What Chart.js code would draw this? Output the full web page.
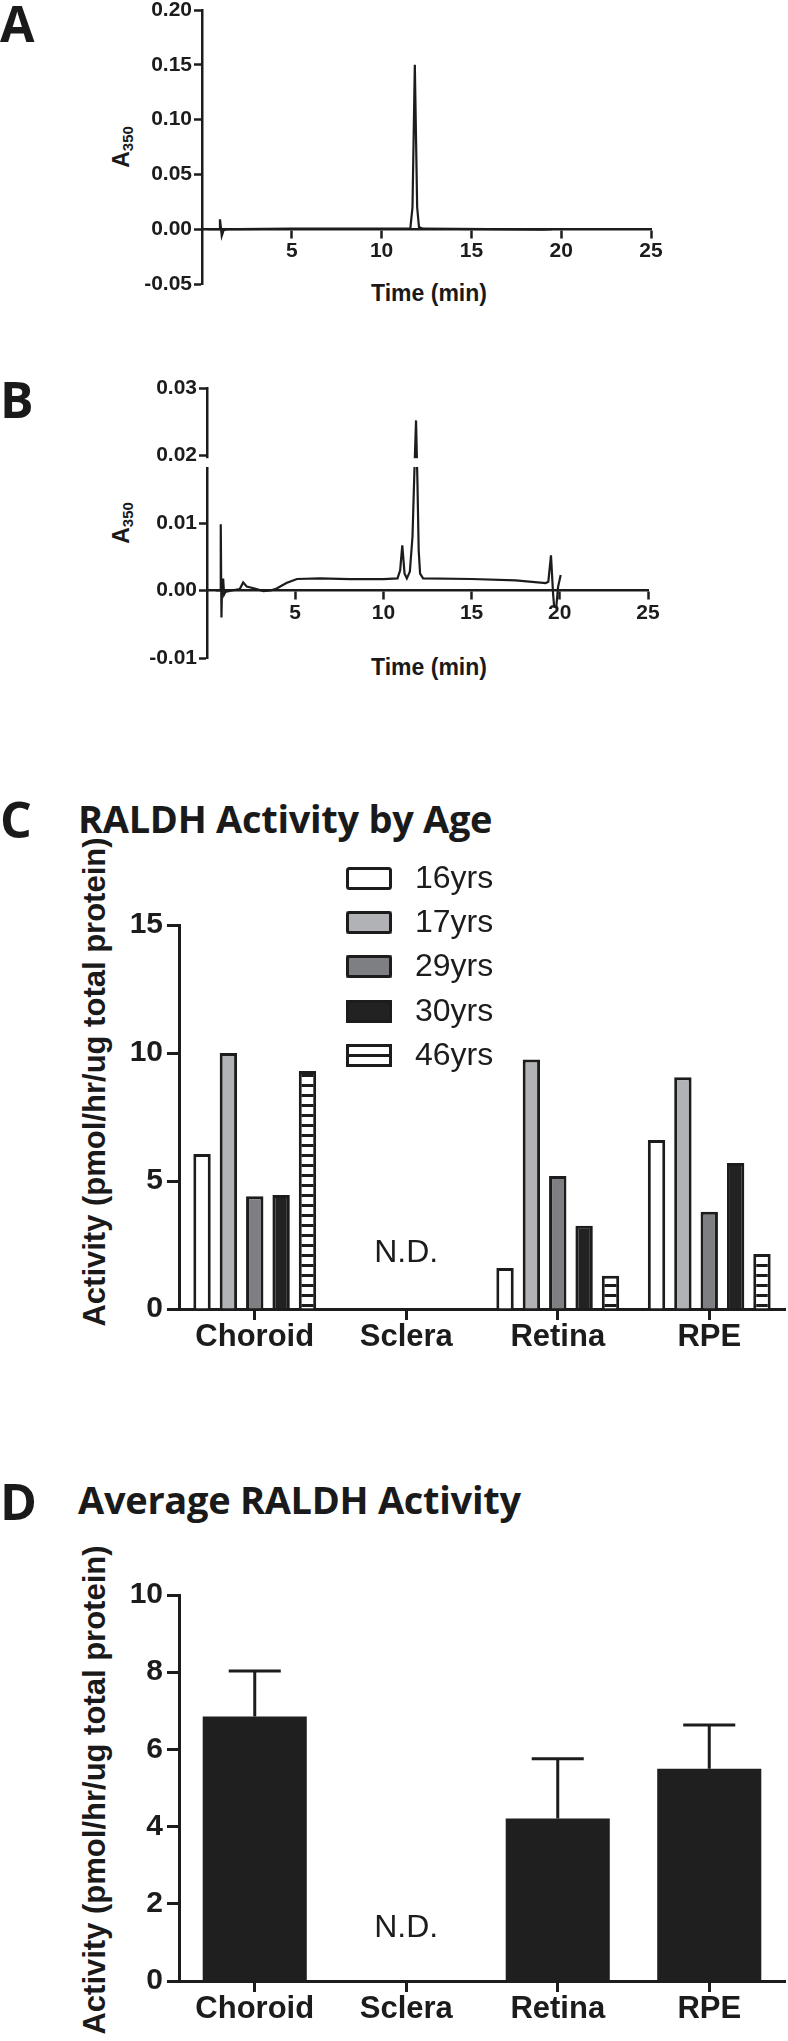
<!DOCTYPE html>
<html>
<head>
<meta charset="utf-8">
<script src="https://cdn.jsdelivr.net/npm/chart.js@4.4.1/dist/chart.umd.min.js"></script>
<style>
  html, body { margin: 0; padding: 0; background: #fff; }
  body { position: relative; width: 788px; height: 2041px; overflow: hidden;
         font-family: 'Liberation Sans', Arial, sans-serif; color: #1a1a1a; }
  canvas { position: absolute; left: 0; }
  .panel { position: absolute; left: 0; font-family: 'Open Sans', sans-serif; font-weight: 700;
           font-size: 50px; line-height: 1; }
  .title { position: absolute; left: 78px; font-family: 'Open Sans', sans-serif; font-weight: 700;
           font-size: 38px; line-height: 1; white-space: nowrap; letter-spacing: -0.3px; }
  .rot { position: absolute; white-space: nowrap; font-weight: bold; line-height: 1;
         transform: translate(-50%, -50%) rotate(-90deg); }
  .rot sub { font-size: 15px; vertical-align: -4px; }
  .xt { position: absolute; white-space: nowrap; font-weight: bold; font-size: 23px; line-height: 1;
        transform: translate(-50%, -50%); }
</style>
</head>
<body>
<div class="panel" style="top:-2px">A</div>
<div class="panel" style="top:374px">B</div>
<div class="panel" style="top:794px">C</div>
<div class="panel" style="top:1476px">D</div>
<div class="title" style="top:799px">RALDH Activity by Age</div>
<div class="title" style="top:1480px">Average RALDH Activity</div>

<div class="rot" style="left:122px; top:147px; font-size:23px">A<sub>350</sub></div>
<div class="rot" style="left:122px; top:523px; font-size:23px">A<sub>350</sub></div>
<div class="xt" style="left:429px; top:293px">Time (min)</div>
<div class="xt" style="left:429px; top:667px">Time (min)</div>
<div class="rot" style="left:94px; top:1082px; font-size:31px">Activity (pmol/hr/ug total protein)</div>
<div class="rot" style="left:94px; top:1790px; font-size:31px">Activity (pmol/hr/ug total protein)</div>

<canvas id="chartA" width="788" height="330" style="top:-20px"></canvas>
<canvas id="chartB" width="788" height="330" style="top:350px"></canvas>
<canvas id="chartC" width="788" height="516" style="top:844px"></canvas>
<canvas id="chartD" width="788" height="481" style="top:1560px"></canvas>

<script>
// chromatogram A (standard)
const timeA = [0.3, 0.95, 1.0, 1.05, 1.1, 1.2, 1.4, 2.0, 5.0, 9.0, 11.6, 11.72, 11.79, 11.85, 11.91, 11.98, 12.08, 12.3, 16.0, 19.0, 19.5];
const absA  = [0, 0, 0.009, 0.002, -0.006, -0.001, 0, 0, 0.0005, 0.0005, 0.0008, 0.02, 0.09, 0.15, 0.09, 0.02, 0.002, 0.0005, 0, -0.0003, 0];

// chromatogram B (sample)
const timeB = [0.5, 0.75, 0.78, 0.82, 0.86, 0.92, 0.97, 1.05, 1.4, 1.85, 2.05, 2.25, 2.7, 3.2, 3.6, 3.95, 4.5, 5.1, 6.4, 8.1,
               10.0, 10.8, 10.95, 11.07, 11.2, 11.33, 11.5, 11.65, 11.75, 11.85, 11.93, 12.0, 12.08, 12.25, 15.0, 17.5,
               19.2, 19.35, 19.5, 19.62, 19.68, 19.8, 19.9, 20.05];
const absB  = [0, 0, 0.0098, -0.004, 0.0016, 0.0016, -0.0006, -0.0002, 0, 0.0002, 0.0012, 0.0006, 0.0003, -0.0001, 0, 0.0003, 0.0011, 0.0017, 0.0018, 0.0017,
               0.0017, 0.0018, 0.003, 0.0067, 0.0025, 0.0018, 0.0028, 0.008, 0.017, 0.0252, 0.016, 0.006, 0.0025, 0.0018, 0.0017, 0.0015,
               0.0011, 0.0013, 0.0052, -0.0005, -0.0024, -0.0025, 0.0005, 0.0023];

const timeTicks = [5, 10, 15, 20, 25];
const ticksAY = [-0.05, 0, 0.05, 0.10, 0.15, 0.20];
const ticksBY = [-0.01, 0, 0.01, 0.02, 0.03];

// RALDH activity by age
const tissues = ['Choroid', 'Sclera', 'Retina', 'RPE'];
const ages = ['16yrs', '17yrs', '29yrs', '30yrs', '46yrs'];
const act16 = [6.05, null, 1.6, 6.6];
const act17 = [10.0, null, 9.75, 9.05];
const act29 = [4.4, null, 5.2, 3.8];
const act30 = [4.45, null, 3.25, 5.7];
const act46 = [9.3, null, 1.3, 2.15];
const ticksC = [0, 5, 10, 15];

// average activity (mean and SEM)
const avgAct = [6.85, null, 4.21, 5.5];
const avgErr = [1.18, null, 1.55, 1.13];
const ticksD = [0, 2, 4, 6, 8, 10];

const ndLabels = ['', 'N.D.', '', ''];

const INK = '#1c1c1c';
Chart.defaults.font.family = "'Liberation Sans', Arial, sans-serif";
Chart.defaults.color = INK;
Chart.defaults.animation = false;

function zip(xs, ys) { return xs.map((x, i) => ({ x: x, y: ys[i] })); }
function setTicks(arr) { return s => { s.ticks = arr.map(v => ({ value: v })); }; }

// horizontal stripes for the 46yrs bars
function stripes() {
  const c = document.createElement('canvas');
  c.width = 10; c.height = 10;
  const g = c.getContext('2d');
  g.fillStyle = '#fff'; g.fillRect(0, 0, 10, 10);
  g.fillStyle = INK; g.fillRect(0, 0, 10, 3);
  return g.createPattern(c, 'repeat');
}

const axisBreak = {
  id: 'axisBreak',
  afterDraw(chart, args, opts) {
    if (opts.from == null) return;
    const ys = chart.scales.y, ctx = chart.ctx;
    const a = ys.getPixelForValue(opts.from), b = ys.getPixelForValue(opts.to);
    ctx.save();
    ctx.fillStyle = '#fff';
    ctx.fillRect(chart.chartArea.left - 3, Math.min(a, b), chart.chartArea.width + 3, Math.abs(b - a));
    ctx.restore();
  }
};

const ndText = {
  id: 'ndText',
  afterDatasetsDraw(chart, args, opts) {
    if (opts.level == null) return;
    const ctx = chart.ctx;
    ctx.save();
    ctx.font = "32px 'Liberation Sans', Arial, sans-serif";
    ctx.fillStyle = INK;
    ctx.textAlign = 'center';
    ctx.textBaseline = 'middle';
    ndLabels.forEach((t, i) => {
      if (t) ctx.fillText(t, chart.scales.x.getPixelForValue(i), chart.scales.y.getPixelForValue(opts.level));
    });
    ctx.restore();
  }
};

const boxLegend = {
  id: 'boxLegend',
  afterDraw(chart, args, opts) {
    if (!opts.show) return;
    const ctx = chart.ctx;
    const x0 = chart.chartArea.left + 167, tops = [23, 67, 111, 156, 200];
    ctx.save();
    chart.data.datasets.forEach((ds, i) => {
      const y = tops[i];
      ctx.fillStyle = ds.backgroundColor;
      ctx.fillRect(x0, y, 46, 23);
      ctx.strokeStyle = INK;
      ctx.lineWidth = 3;
      ctx.beginPath();
      ctx.roundRect(x0 + 1.5, y + 1.5, 43, 20, 2);
      ctx.stroke();
      ctx.fillStyle = INK;
      ctx.font = "32px 'Liberation Sans', Arial, sans-serif";
      ctx.textBaseline = 'middle';
      ctx.fillText(ds.label, x0 + 69, y + 12);
    });
    ctx.restore();
  }
};

const errorBars = {
  id: 'errorBars',
  afterDatasetsDraw(chart, args, opts) {
    if (!opts.errors) return;
    const meta = chart.getDatasetMeta(0), ys = chart.scales.y, ctx = chart.ctx;
    ctx.save();
    ctx.strokeStyle = INK;
    ctx.lineWidth = 3;
    meta.data.forEach((bar, i) => {
      const v = chart.data.datasets[0].data[i], e = opts.errors[i];
      if (v == null || e == null) return;
      const top = ys.getPixelForValue(v + e), half = bar.width / 4;
      ctx.beginPath();
      ctx.moveTo(bar.x, bar.y);
      ctx.lineTo(bar.x, top);
      ctx.moveTo(bar.x - half, top);
      ctx.lineTo(bar.x + half, top);
      ctx.stroke();
    });
    ctx.restore();
  }
};

Chart.register(axisBreak, ndText, boxLegend, errorBars);

function chromOptions(pad, yWidth, yMin, yMax, yTicks) {
  return {
    responsive: false,
    devicePixelRatio: 1,
    layout: { padding: pad },
    plugins: { legend: { display: false }, tooltip: { enabled: false } },
    scales: {
      x: {
        type: 'linear', min: 0, max: 25, position: { y: 0 },
        afterBuildTicks: setTicks(timeTicks),
        grid: { drawOnChartArea: false, tickLength: 8, tickWidth: 2.5, tickColor: INK },
        border: { color: INK, width: 2.5 },
        ticks: { font: { size: 21, weight: 'bold', lineHeight: 1 }, padding: 4, maxRotation: 0 }
      },
      y: {
        min: yMin, max: yMax,
        afterBuildTicks: setTicks(yTicks),
        afterFit: s => { s.width = yWidth; },
        grid: { drawOnChartArea: false, tickLength: 8, tickWidth: 2.5, tickColor: INK },
        border: { color: INK, width: 2.5 },
        ticks: { font: { size: 21, weight: 'bold', lineHeight: 1 }, padding: 2, callback: v => v.toFixed(2) }
      }
    }
  };
}

function traceSet(xs, ys) {
  return { data: zip(xs, ys), borderColor: INK, borderWidth: 2.2, pointRadius: 0, tension: 0, fill: false };
}

new Chart(document.getElementById('chartA'), {
  type: 'line',
  data: { datasets: [traceSet(timeA, absA)] },
  options: chromOptions({ top: 30, right: 137, bottom: 26, left: 0 }, 202, -0.05, 0.20, ticksAY)
});

const optB = chromOptions({ top: 38, right: 140, bottom: 22, left: 0 }, 207, -0.01, 0.03, ticksBY);
optB.plugins.axisBreak = { from: 0.0196, to: 0.0183 };
new Chart(document.getElementById('chartB'), {
  type: 'line',
  data: { datasets: [traceSet(timeB, absB)] },
  options: optB
});

function barOptions(pad, xHeight, yMax, yTicks) {
  return {
    responsive: false,
    devicePixelRatio: 1,
    layout: { padding: pad },
    plugins: { legend: { display: false }, tooltip: { enabled: false } },
    scales: {
      x: {
        afterFit: s => { s.height = xHeight; },
        grid: { offset: false, drawOnChartArea: false, tickLength: 11, tickWidth: 3, tickColor: INK },
        border: { color: INK, width: 3 },
        ticks: { font: { size: 31, weight: 'bold', lineHeight: 1 }, padding: 2, maxRotation: 0 }
      },
      y: {
        min: 0, max: yMax,
        afterBuildTicks: setTicks(yTicks),
        afterFit: s => { s.width = 179; },
        grid: { drawOnChartArea: false, tickLength: 12, tickWidth: 3, tickColor: INK },
        border: { color: INK, width: 3 },
        ticks: { font: { size: 30, weight: 'bold', lineHeight: 1 }, padding: 4 }
      }
    }
  };
}

const ageFill = ['#ffffff', '#b1b2b6', '#7e7f82', '#222222', stripes()];
const ageData = [act16, act17, act29, act30, act46];

const optC = barOptions({ top: 81, right: 3, bottom: 0, left: 0 }, 51, 15, ticksC);
optC.plugins.boxLegend = { show: true };
optC.plugins.ndText = { level: 2.2 };
new Chart(document.getElementById('chartC'), {
  type: 'bar',
  data: {
    labels: tissues,
    datasets: ages.map((a, i) => ({
      label: a, data: ageData[i], backgroundColor: ageFill[i],
      borderColor: INK, borderWidth: 3, borderSkipped: 'bottom',
      categoryPercentage: 0.87, barPercentage: 0.66
    }))
  },
  options: optC
});

const optD = barOptions({ top: 35, right: 3, bottom: 0, left: 0 }, 60, 10, ticksD);
optD.plugins.errorBars = { errors: avgErr };
optD.plugins.ndText = { level: 1.37 };
new Chart(document.getElementById('chartD'), {
  type: 'bar',
  data: {
    labels: tissues,
    datasets: [{
      label: 'Average', data: avgAct, backgroundColor: '#1f1f1f', borderWidth: 0,
      categoryPercentage: 1, barPercentage: 0.687
    }]
  },
  options: optD
});
</script>
</body>
</html>
